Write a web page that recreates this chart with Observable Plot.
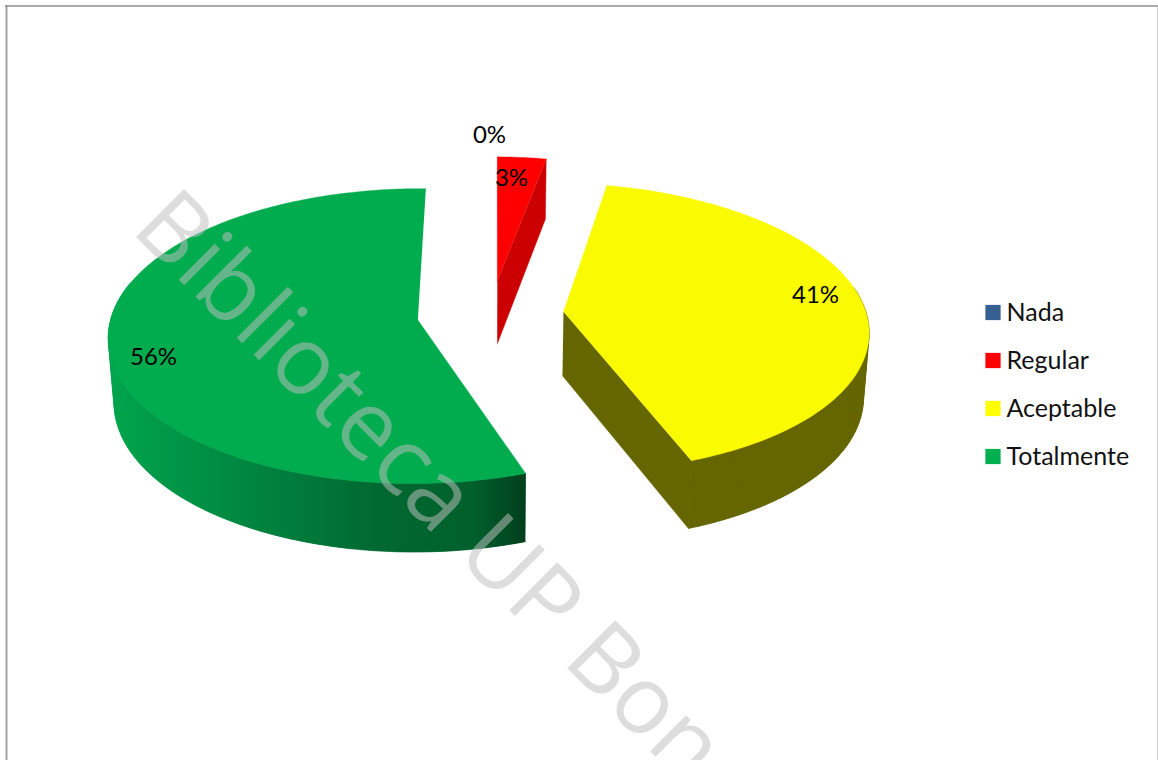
<!DOCTYPE html>
<html><head><meta charset="utf-8">
<script src="https://cdn.jsdelivr.net/npm/d3@7"></script>
<script src="https://cdn.jsdelivr.net/npm/@observablehq/plot@0.6"></script>
<style>html,body{margin:0;padding:0;background:#fff;overflow:hidden}svg{display:block}</style>
</head><body><div id="chart"></div>
<script>
const categories = ["Nada", "Regular", "Aceptable", "Totalmente"];
const shares = [0, 2.9, 41.5, 55.6];
const labels = ["0%", "3%", "41%", "56%"];
const swatches = ["#376092", "#ff0000", "#ffff00", "#00b050"];
const watermark = "Biblioteca UP Bon";

// Perspective view of the exploded disc
const view = {cx: 494, cy: 314, bx: 306, ay: 144.5, k: 0.109, explode: 0.24, turn: 1, shear: 4,
  depth: 64, growY: 0.026, shrinkX: 0.985};
// Per-slice fine adjustment of the end angle and the radius, to follow the picture's perspective
const endNudge = [0, 0, -1, 0];
const radius = [1, 1, 0.99, 1];
const rad = d => d * Math.PI / 180;
const project = (U, V) => {
  const w = 1 - view.k * V;
  return [view.cx + view.bx * U / w - view.shear * (1 - V), view.cy + view.ay * V / w];
};
const lower = ([x, y]) => [view.cx + (x - view.cx) * view.shrinkX,
  y + view.depth + view.growY * (y - view.cy)];

const arcs = d3.pie().sort(null).value(d => d)(shares).map((a, i) => {
  const start = a.startAngle * 180 / Math.PI + view.turn;
  const end = a.endAngle * 180 / Math.PI + view.turn + endNudge[i];
  const mid = rad((start + end) / 2);
  return {i, start, end, r: radius[i], U0: view.explode * Math.sin(mid), V0: -view.explode * Math.cos(mid)};
});
const rim = (a, deg) => project(a.U0 + a.r * Math.sin(rad(deg)), a.V0 - a.r * Math.cos(rad(deg)));
const apex = a => project(a.U0, a.V0);
const rimPath = (a, from, to) => {
  const n = Math.max(2, Math.ceil(Math.abs(to - from)));
  return d3.range(n + 1).map(j => rim(a, from + (to - from) * j / n));
};

const polys = [];
const poly = (pts, fill) => {
  const z = polys.length ? polys[polys.length - 1].z + 1 : 0;
  pts.forEach(([x, y]) => polys.push({x, y, z, fill}));
};
// A curved wall, built of quads so that its silhouette joins the top and bottom rims
const wall = (a, from, to, fill) => {
  const path = rimPath(a, from, to);
  poly([...path, ...path.map(lower).reverse()], fill);
  d3.pairs(path).forEach(([p, q]) => poly([p, q, lower(q), lower(p)], fill));
};
const [, red, yellow, green] = arcs;

// side walls
wall(green, green.start, 285, "url(#greenSide)");
poly([apex(yellow), rim(yellow, yellow.end), lower(rim(yellow, yellow.end)), lower(apex(yellow))], "#666600");
wall(yellow, 80, yellow.end, "#666600");
poly([apex(red), rim(red, red.end), lower(rim(red, red.end)), lower(apex(red))], "#cc0000");

// top faces
poly([apex(red), ...rimPath(red, red.start, red.end)], "#ff0000");
poly([apex(yellow), ...rimPath(yellow, yellow.start, yellow.end)], "#fbfb00");
poly([apex(green), ...rimPath(green, green.start, green.end)], "#00ac4e");

const font = "Lato";
const labelRows = [
  {t: labels[0], x: 489, y: 135},
  {t: labels[1], x: 511, y: 178},
  {t: labels[2], x: 815, y: 295},
  {t: labels[3], x: 153, y: 357}
];
const legendRows = categories.map((c, i) => ({c, col: swatches[i], y: 312 + 48 * i}));

const gradientStops = [[0, "#00a34c"], [0.33, "#008540"], [0.62, "#006a32"], [0.87, "#00602c"], [1, "#003f1c"]];
const gradient = () => {
  const defs = d3.create("svg:defs");
  const g = defs.append("linearGradient").attr("id", "greenSide")
    .attr("gradientUnits", "userSpaceOnUse").attr("x1", 115).attr("x2", 526).attr("y1", 0).attr("y2", 0);
  gradientStops.forEach(([o, c]) => g.append("stop").attr("offset", o).attr("stop-color", c));
  return defs.node();
};

const plot = Plot.plot({
  width: 1158, height: 760, margin: 0,
  x: {domain: [0, 1158], range: [0, 1158], axis: null},
  y: {domain: [0, 760], range: [0, 760], axis: null},
  style: {background: "#fff"},
  marks: [
    gradient,
    Plot.ruleX([6], {y1: 5, y2: 760, stroke: "#a3a3a3", strokeWidth: 2}),
    Plot.ruleY([5.5], {x1: 5, x2: 1158, stroke: "#8f8f8f", strokeWidth: 1.5}),
    Plot.ruleX([1157.5], {y1: 5, y2: 760, stroke: "#a3a3a3", strokeWidth: 1}),
    Plot.line(polys, {x: "x", y: "y", z: "z", fill: "fill", stroke: "fill", strokeWidth: 0.4, curve: "linear"}),
    Plot.text([watermark], {x: () => 129, y: () => 230, text: d => d, rotate: 45, textAnchor: "start",
      lineAnchor: "bottom", fontFamily: "Open Sans", fontWeight: 500, fontSize: 95, fill: "#bebebe", fillOpacity: 0.525}),
    Plot.text(labelRows, {x: "x", y: "y", text: "t", fontFamily: font, fontSize: 24, fill: "#000"}),
    Plot.dot(legendRows, {x: () => 992.5, y: "y", symbol: "square", r: 8.6, fill: "col", stroke: "none"}),
    Plot.text(legendRows, {x: () => 1006, y: "y", text: "c", textAnchor: "start", fontFamily: font, fontSize: 25, fill: "#111"})
  ]
});
document.getElementById("chart").appendChild(plot);
</script></body></html>
